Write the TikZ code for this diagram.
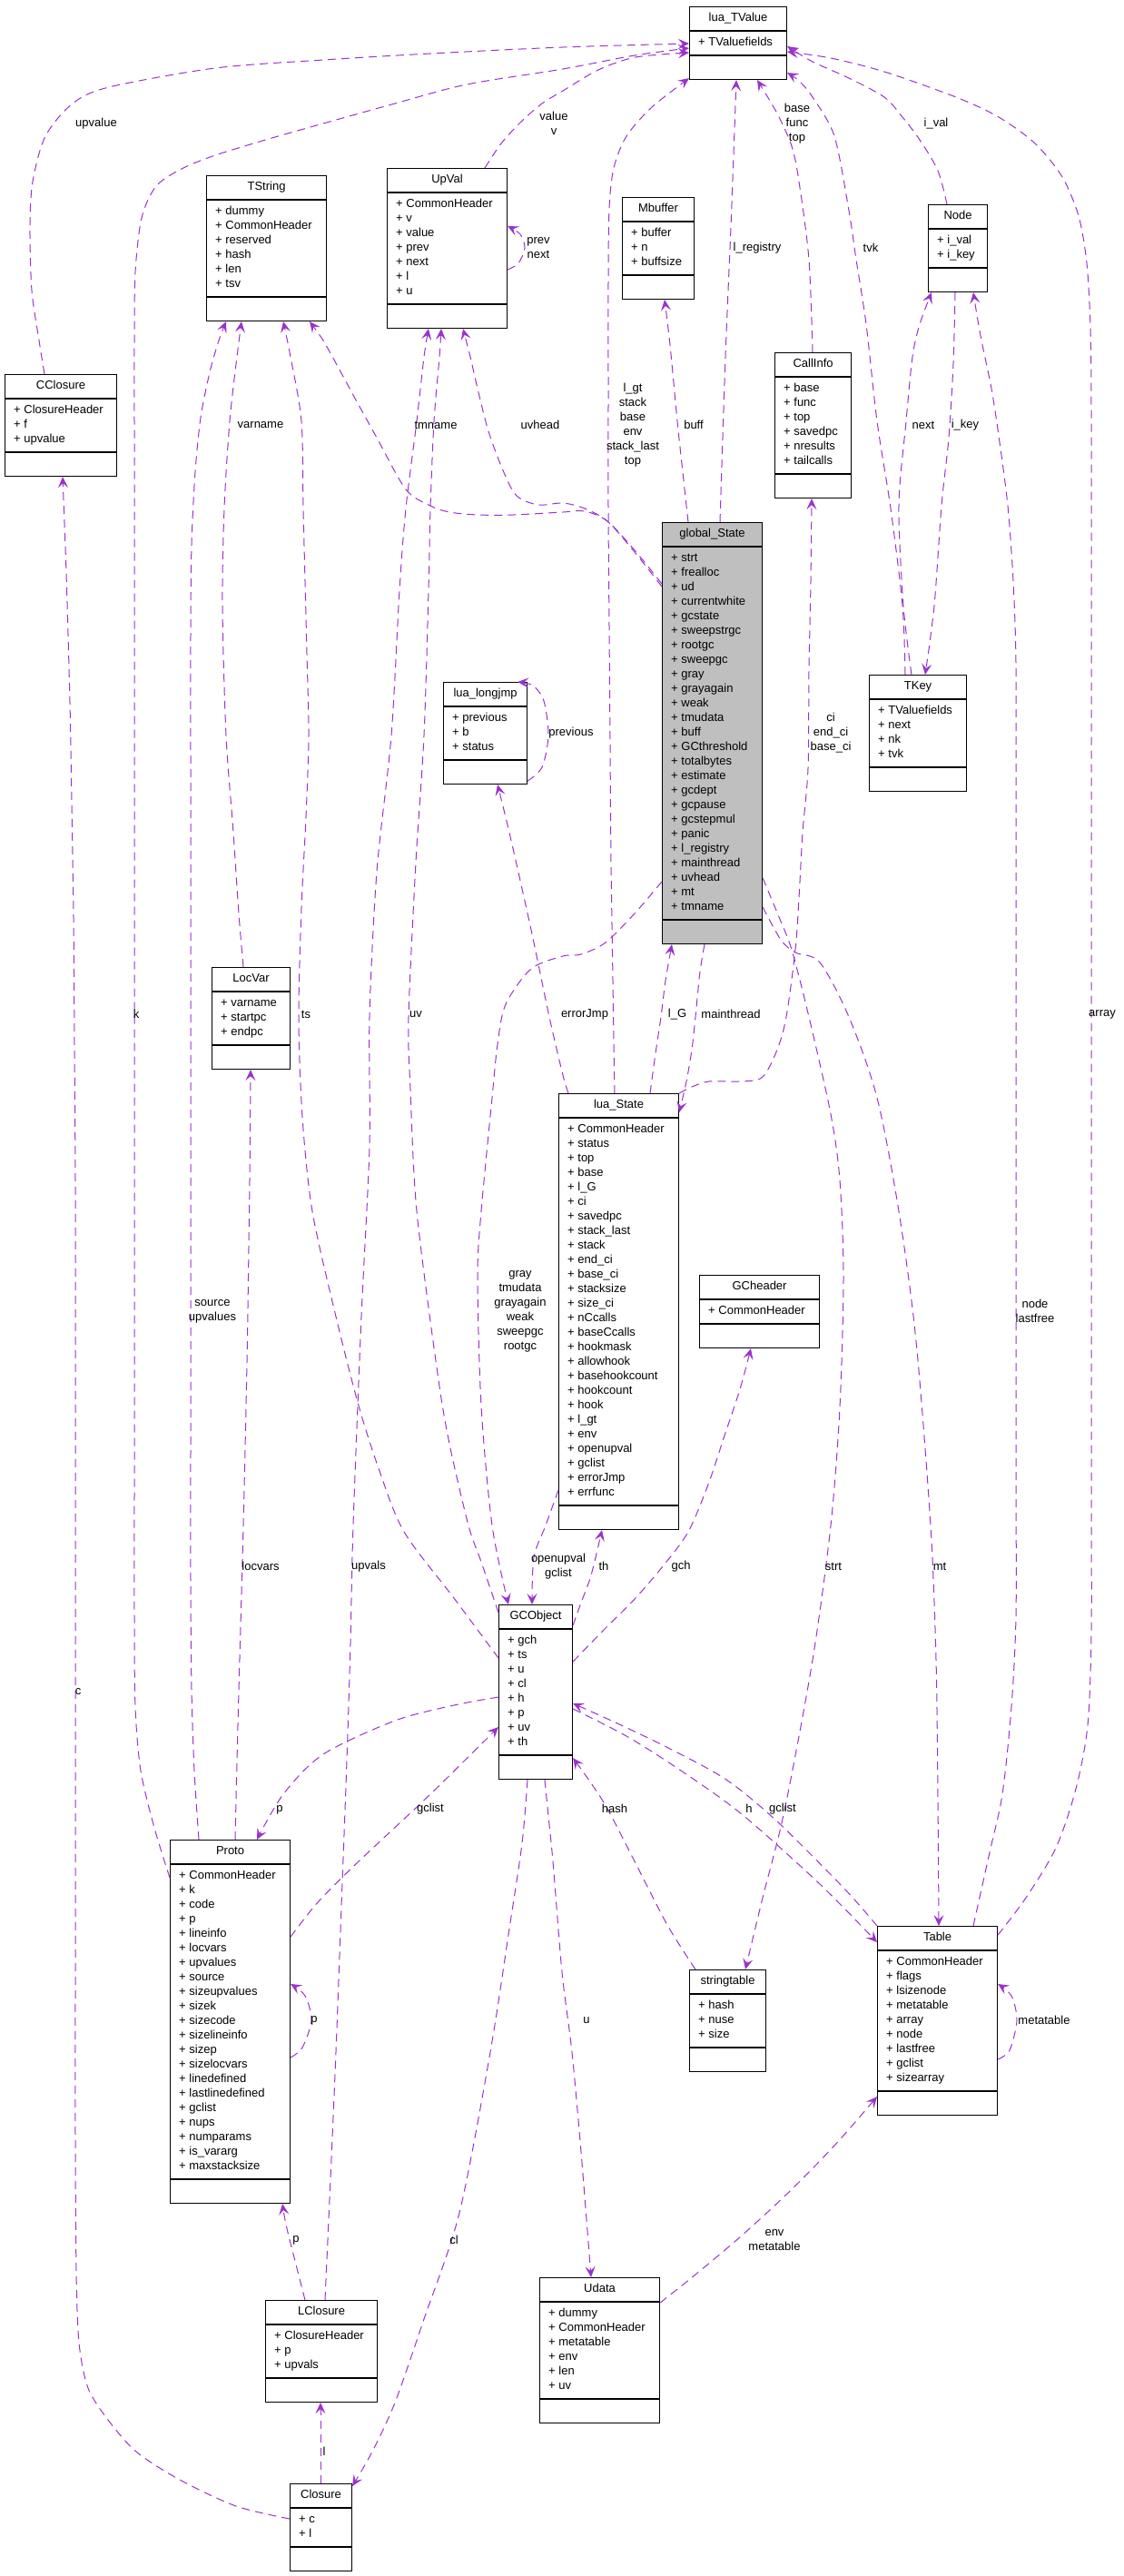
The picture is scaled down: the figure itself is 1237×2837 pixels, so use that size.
\documentclass[tikz,border=0pt]{standalone}
\usepackage{fontspec}
\setmainfont{Liberation Sans}
\usetikzlibrary{arrows.meta, calc}
\definecolor{edgepurple}{RGB}{154, 50, 205}
\definecolor{focusgray}{RGB}{191, 191, 191}
\newcommand{\classfont}{\fontsize{13}{16}\selectfont}

% one class box: [fill] name, top-left corner, width, title, members
\newcommand{\umlclass}[6][white]{%
  \foreach \m [count=\i] in {#6} {\xdef\nrows{\i}}
  \node[classbox, fill=#1, minimum width=#4, minimum height=64+16*\nrows] (#2) at (#3) {};
  \node[classtitle] (#2-title) at ($(#2.north)+(0,13.5)$) {#5};
  \draw[classline] ($(#2.north west)+(0,27)$) -- ($(#2.north east)+(0,27)$);
  \draw[classline] ($(#2.north west)+(0,{38+16*\nrows})$) -- ($(#2.north east)+(0,{38+16*\nrows})$);
  \foreach \m [count=\i] in {#6}
    \node[member] (#2-\i) at ($(#2.north west)+(10,{24+16*\i})$) {+ \m};
}

\begin{document}
\begin{tikzpicture}[x=1pt, y=-1pt,
    classbox/.style={draw=black, line width=1.1pt, anchor=north west, inner sep=0pt},
    classline/.style={draw=black, line width=1.1pt},
    classtitle/.style={font=\classfont, inner sep=0pt, text height=9.3pt, text depth=2.7pt},
    member/.style={font=\classfont, anchor=west, inner sep=0pt, text height=9.3pt, text depth=2.7pt},
    usedby/.style={draw=edgepurple, line width=1pt, dash pattern=on 9pt off 6pt,
      -{Stealth[length=12pt, width=11pt, inset=5pt]}},
    elabel/.style={font=\classfont, align=center, inner sep=0pt}]
    \fill[white] (0,0) rectangle (1237,2837);
    \useasboundingbox (0,0) rectangle (1237,2837);

    % classes
    \umlclass{tvalue}{759,7}{107}{lua\_TValue}{TValuefields}
    \umlclass{tstring}{227,193}{132}{TString}{dummy, CommonHeader, reserved, hash, len, tsv}
    \umlclass{upval}{426,185}{132}{UpVal}{CommonHeader, v, value, prev, next, l, u}
    \umlclass{mbuffer}{685,217}{79}{Mbuffer}{buffer, n, buffsize}
    \umlclass{tnode}{1022,225}{65}{Node}{i\_val, i\_key}
    \umlclass{callinfo}{853,388}{84}{CallInfo}{base, func, top, savedpc, nresults, tailcalls}
    \umlclass{cclosure}{5,412}{123}{CClosure}{ClosureHeader, f, upvalue}
    \umlclass[focusgray]{globalstate}{729,575}{110}{global\_State}{strt, frealloc, ud, currentwhite, gcstate, sweepstrgc, rootgc, sweepgc, gray, grayagain, weak, tmudata, buff, GCthreshold, totalbytes, estimate, gcdept, gcpause, gcstepmul, panic, l\_registry, mainthread, uvhead, mt, tmname}
    \umlclass{tkey}{957,743}{107}{TKey}{TValuefields, next, nk, tvk}
    \umlclass{longjmp}{488,751}{92}{lua\_longjmp}{previous, b, status}
    \umlclass{locvar}{233,1065}{86}{LocVar}{varname, startpc, endpc}
    \umlclass{luastate}{615,1204}{132}{lua\_State}{CommonHeader, status, top, base, l\_G, ci, savedpc, stack\_last, stack, end\_ci, base\_ci, stacksize, size\_ci, nCcalls, baseCcalls, hookmask, allowhook, basehookcount, hookcount, hook, l\_gt, env, openupval, gclist, errorJmp, errfunc}
    \umlclass{gcheader}{770,1404}{132}{GCheader}{CommonHeader}
    \umlclass{gcobject}{549,1767}{81}{GCObject}{gch, ts, u, cl, h, p, uv, th}
    \umlclass{proto}{187,2026}{132}{Proto}{CommonHeader, k, code, p, lineinfo, locvars, upvalues, source, sizeupvalues, sizek, sizecode, sizelineinfo, sizep, sizelocvars, linedefined, lastlinedefined, gclist, nups, numparams, is\_vararg, maxstacksize}
    \umlclass{stringtable}{759,2169}{84}{stringtable}{hash, nuse, size}
    \umlclass{table}{966,2121}{132}{Table}{CommonHeader, flags, lsizenode, metatable, array, node, lastfree, gclist, sizearray}
    \umlclass{udata}{594,2508}{132}{Udata}{dummy, CommonHeader, metatable, env, len, uv}
    \umlclass{lclosure}{292,2533}{123}{LClosure}{ClosureHeader, p, upvals}
    \umlclass{closure}{319,2735}{68}{Closure}{c, l}

    % connectors into lua_TValue
    \draw[usedby] plot[smooth] coordinates {($(cclosure.north west)+(44,0)$) (43,375) (35,320) (33,250) (36,200) (50,150) (80,114) (120,96) (237,75) (356,66) (474,59) (620,52) ($(tvalue.north west)+(0,41)$)};
    \draw[usedby] plot[smooth] coordinates {($(proto.north west)+(0,42)$) (170,2013) (155,1950) (149,1880) (148,1780) (148,1640) (148,1500) (148,1350) (148,1200) (148,1050) (148,900) (148,750) (148,600) (148,470) (148,380) (149,300) (156,240) (172,205) (200,186) (237,171) (296,153) (356,136) (435,114) (514,93) (620,76) (699,61) ($(tvalue.north west)+(0,46)$)};
    \draw[usedby] plot[smooth] coordinates {($(upval.north west)+(108,0)$) (552,158) (573,135) (597,114) (620,100) (659,77) (700,63) ($(tvalue.north west)+(0,51)$)};
    \draw[usedby] plot[smooth] coordinates {($(luastate.north west)+(62,0)$) (676,1150) (675,1080) (673,950) (672,820) (671,690) (670,560) (670,430) (670,310) (671,230) (676,185) (690,150) (718,118) ($(tvalue.south west)+(0,-2)$)};
    \draw[usedby] plot[smooth] coordinates {($(globalstate.north west)+(64,0)$) (799,393) (805,250) (809,143) ($(tvalue.south west)+(52,0)$)};
    \draw[usedby] plot[smooth] coordinates {($(callinfo.north west)+(42,0)$) (891,286) (880,200) (872,161) (856,125) ($(tvalue.south west)+(75,0)$)};
    \draw[usedby] plot[smooth] coordinates {($(tkey.north west)+(40,0)$) (994,667) (981,560) (966,464) (954,357) (943,286) (935,232) (919,150) (895,107) (880,89) ($(tvalue.south east)+(0,-8)$)};
    \draw[usedby] plot[smooth] coordinates {($(tnode.north west)+(21,0)$) (1033,188) (1013,154) (994,129) (974,107) (935,86) (895,68) ($(tvalue.north east)+(0,44)$)};
    \draw[usedby] plot[smooth] coordinates {($(table.north east)+(0,10)$) (1130,2090) (1163,2035) (1185,1970) (1198,1900) (1202,1800) (1202,1650) (1202,1500) (1202,1350) (1202,1200) (1202,1050) (1202,900) (1202,750) (1202,600) (1202,450) (1201,360) (1197,290) (1188,238) (1170,195) (1140,158) (1100,129) (1053,107) (974,79) (915,64) ($(tvalue.north east)+(0,50)$)};

    % Node and TKey
    \draw[usedby] plot[smooth] coordinates {($(table.north west)+(106,0)$) (1090,2040) (1104,1976) (1114,1880) (1119,1780) (1119,1630) (1119,1480) (1119,1330) (1119,1180) (1119,1030) (1119,880) (1119,730) (1116,640) (1110,557) (1100,480) (1092,428) (1080,370) ($(tnode.south west)+(50,0)$)};
    \draw[usedby] plot[smooth] coordinates {($(tkey.north west)+(47,0)$) (995,667) (990,557) (998,464) (1005,393) (1013,357) ($(tnode.south west)+(4,0)$)};
    \draw[usedby] plot[smooth] coordinates {($(tnode.south west)+(30,0)$) (1050,400) (1045,482) (1037,557) (1029,667) ($(tkey.north west)+(62,0)$)};

    % into TString
    \draw[usedby] plot[smooth] coordinates {($(locvar.north west)+(35,0)$) (263,1006) (257,917) (249,810) (245,667) (247,560) (253,464) (261,393) ($(tstring.south west)+(39,0)$)};
    \draw[usedby] plot[smooth] coordinates {($(proto.north west)+(32,0)$) (214,1950) (211,1860) (210,1740) (210,1590) (210,1440) (210,1290) (210,1140) (210,990) (210,840) (210,700) (211,600) (215,520) (221,460) (231,410) (241,375) ($(tstring.south west)+(22,0)$)};
    \draw[usedby] plot[smooth] coordinates {($(gcobject.north west)+(0,59)$) (500,1760) (445,1687) (418,1620) (395,1548) (370,1450) (344,1334) (333,1230) (329,1120) (332,1000) (337,900) (340,810) (338,720) (336,640) (334,560) (332,464) (320,393) ($(tstring.south west)+(85,0)$)};
    \draw[usedby] plot[smooth] coordinates {($(globalstate.north west)+(0,68)$) (699,606) (669,574) (644,563) (620,564) (565,567) (526,567) (495,564) (474,557) (447,539) (415,482) (395,446) (376,411) (356,375) ($(tstring.south west)+(114,0)$)};

    % into UpVal
    \draw[usedby] plot[smooth] coordinates {($(globalstate.north west)+(0,71)$) (699,608) (669,574) (644,560) (620,554) (593,556) (569,546) (554,518) (538,475) (526,428) (518,393) ($(upval.south west)+(84,0)$)};
    \draw[usedby] plot[smooth] coordinates {($(lclosure.north west)+(66,0)$) (364,2400) (370,2260) (376,2100) (382,1939) (386,1810) (389,1680) (398,1450) (407,1263) (407,1120) (415,960) (431,810) (440,650) (447,560) (459,464) (467,393) ($(upval.south west)+(46,0)$)};
    \draw[usedby] plot[smooth] coordinates {($(gcobject.north west)+(0,9)$) (530,1720) (516,1680) (495,1590) (482,1513) (459,1334) (452,1200) (450,1120) (458,950) (467,810) (472,650) (474,560) (478,464) (484,393) ($(upval.south west)+(60,0)$)};
    \draw[usedby] plot[smooth] coordinates {($(upval.north east)+(0,112)$) (571,290) (578,273) (573,258) ($(upval.north east)+(0,64)$)};

    % global_State, lua_State and the rest
    \draw[usedby] plot[smooth] coordinates {($(globalstate.north west)+(29,0)$) (752,520) (746,464) (738,380) ($(mbuffer.south west)+(47,0)$)};
    \draw[usedby] plot[smooth] coordinates {(luastate.north east) (762,1197) (781,1191) (817,1191) (840,1186) (856,1156) (866,1120) (876,1046) (880,989) (884,917) (890,846) (891,739) (893,640) ($(callinfo.south west)+(41,0)$)};
    \draw[usedby] plot[smooth] coordinates {($(globalstate.south west)+(47,0)$) (771,1070) (766,1120) (762,1156) (756,1191) ($(luastate.north east)+(0,21)$)};
    \draw[usedby] plot[smooth] coordinates {($(luastate.north west)+(101,0)$) (722,1160) (728,1120) (733,1080) ($(globalstate.south west)+(11,0)$)};
    \draw[usedby] plot[smooth] coordinates {($(luastate.north west)+(11,0)$) (620,1184) (605,1120) (585,1024) (561,917) ($(longjmp.south west)+(60,0)$)};
    \draw[usedby] plot[smooth] coordinates {($(longjmp.south east)+(0,-4)$) (597,845) (604,810) (599,772) (587,755) ($(longjmp.north east)+(-11,0)$)};
    \draw[usedby] plot[smooth] coordinates {($(globalstate.north west)+(0,396)$) (699,1006) (667,1038) (640,1051) (620,1053) (585,1067) (557,1106) (548,1150) (542,1209) (530,1334) (526,1406) (530,1548) (542,1680) ($(gcobject.north west)+(11,0)$)};
    \draw[usedby] plot[smooth] coordinates {($(luastate.south west)+(0,-44)$) (601,1680) (588,1715) ($(gcobject.north west)+(37,0)$)};
    \draw[usedby] plot[smooth] coordinates {($(gcobject.north east)+(0,23)$) (640,1765) (651,1735) ($(luastate.south west)+(48,0)$)};
    \draw[usedby] plot[smooth] coordinates {($(gcobject.north east)+(0,63)$) (665,1795) (699,1761) (730,1725) (758,1687) (780,1635) (797,1584) (815,1530) ($(gcheader.south west)+(57,0)$)};
    \draw[usedby] plot[smooth] coordinates {($(gcobject.north east)+(0,115)$) (690,1912) (750,1950) (817,1998) (903,2075) ($(table.north west)+(0,18)$)};
    \draw[usedby] plot[smooth] coordinates {(table.north west) (930,2080) (856,2006) (800,1960) (738,1926) (680,1898) ($(gcobject.north east)+(0,109)$)};
    \draw[usedby] plot[smooth] coordinates {($(stringtable.north west)+(7,0)$) (735,2120) (699,2050) (665,1985) ($(gcobject.south east)+(0,-24)$)};
    \draw[usedby] plot[smooth] coordinates {($(gcobject.north west)+(0,102)$) (500,1878) (435,1895) (356,1932) (312,1976) ($(proto.north west)+(96,0)$)};
    \draw[usedby] plot[smooth] coordinates {($(proto.north east)+(0,107)$) (350,2095) (395,2050) (474,1976) ($(gcobject.north west)+(0,135)$)};
    \draw[usedby] plot[smooth] coordinates {($(gcobject.south west)+(32,0)$) (575,2030) (561,2124) (540,2260) (506,2437) (467,2554) (435,2646) (410,2700) ($(closure.north east)+(0,3)$)};
    \draw[usedby] plot[smooth] coordinates {($(gcobject.south west)+(51,0)$) (604,2000) (609,2050) (619,2172) (630,2260) (640,2370) ($(udata.north west)+(57,0)$)};
    \draw[usedby] plot[smooth] coordinates {($(udata.north east)+(0,28)$) (766,2505) (817,2462) (868,2415) (919,2363) ($(table.south west)+(0,-21)$)};
    \draw[usedby] plot[smooth] coordinates {($(table.north east)+(0,147)$) (1112,2258) (1120,2225) (1114,2198) ($(table.north east)+(0,64)$)};
    \draw[usedby] plot[smooth] coordinates {($(globalstate.north east)+(0,392)$) (858,1010) (872,1046) (891,1120) (915,1227) (925,1300) (929,1406) (925,1550) (915,1680) (895,1828) (864,1994) (840,2090) ($(stringtable.north west)+(62,0)$)};
    \draw[usedby] plot[smooth] coordinates {($(globalstate.north east)+(0,424)$) (860,1035) (876,1049) (903,1060) (935,1120) (966,1209) (990,1334) (1009,1477) (1025,1680) (1031,1828) (1033,1980) ($(table.north west)+(68,0)$)};

    % Proto, closures, LocVar
    \draw[usedby] plot[smooth] coordinates {($(lclosure.north west)+(44,0)$) (325,2490) (315,2450) ($(proto.south east)+(-9,0)$)};
    \draw[usedby] plot[smooth] coordinates {($(proto.north east)+(0,240)$) (333,2255) (343,2225) (336,2198) ($(proto.north east)+(0,159)$)};
    \draw[usedby] plot[smooth] coordinates {($(proto.north west)+(72,0)$) (262,1900) (268,1680) (272,1500) (275,1300) ($(locvar.south west)+(43,0)$)};
    \draw[usedby] ($(closure.north west)+(34,0)$) -- ($(lclosure.south west)+(61,0)$);
    \draw[usedby] plot[smooth] coordinates {($(closure.north west)+(0,39)$) (260,2760) (198,2731) (150,2700) (119,2665) (97,2630) (87,2580) (84,2500) (83,2350) (83,2200) (83,2050) (83,1900) (83,1750) (83,1600) (83,1450) (83,1300) (82,1150) (81,1010) (79,881) (77,774) (73,631) ($(cclosure.south west)+(64,0)$)};

    % connector labels
    \node[elabel] (lbl-upvalue) at (106,136) {upvalue};
    \node[elabel] (lbl-k) at (150,1117) {k};
    \node[elabel] (lbl-value) at (610,136) {value\\v};
    \node[elabel] (lbl-lgt) at (697,468) {l\_gt\\stack\\base\\env\\stack\_last\\top};
    \node[elabel] (lbl-registry) at (834,273) {l\_registry};
    \node[elabel] (lbl-base) at (878,136) {base\\func\\top};
    \node[elabel] (lbl-tvk) at (959,273) {tvk};
    \node[elabel] (lbl-ival) at (1031,136) {i\_val};
    \node[elabel] (lbl-array) at (1214,1117) {array};
    \node[elabel] (lbl-node) at (1140,1444) {node\\lastfree};
    \node[elabel] (lbl-next) at (1017,468) {next};
    \node[elabel] (lbl-ikey) at (1063,468) {i\_key};
    \node[elabel] (lbl-varname) at (287,468) {varname};
    \node[elabel] (lbl-source) at (234,1444) {source\\upvalues};
    \node[elabel] (lbl-ts) at (337,1117) {ts};
    \node[elabel] (lbl-tmname) at (480,468) {tmname};
    \node[elabel] (lbl-uvhead) at (595,468) {uvhead};
    \node[elabel] (lbl-upvals) at (406,1725) {upvals};
    \node[elabel] (lbl-uv) at (458,1117) {uv};
    \node[elabel] (lbl-buff) at (764,468) {buff};
    \node[elabel] (lbl-ci) at (915,807) {ci\\end\_ci\\base\_ci};
    \node[elabel] (lbl-mainthread) at (805,1117) {mainthread};
    \node[elabel] (lbl-lG) at (746,1117) {l\_G};
    \node[elabel] (lbl-errorjmp) at (644,1117) {errorJmp};
    \node[elabel] (lbl-previous) at (629,807) {previous};
    \node[elabel] (lbl-gray) at (573,1444) {gray\\tmudata\\grayagain\\weak\\sweepgc\\rootgc};
    \node[elabel] (lbl-openupval) at (615,1725) {openupval\\gclist};
    \node[elabel] (lbl-th) at (665,1725) {th};
    \node[elabel] (lbl-gch) at (750,1725) {gch};
    \node[elabel] (lbl-h) at (825,1992) {h};
    \node[elabel] (lbl-tgclist) at (862,1992) {gclist};
    \node[elabel] (lbl-hash) at (677,1992) {hash};
    \node[elabel] (lbl-p) at (308,1993) {p};
    \node[elabel] (lbl-pgclist) at (474,1992) {gclist};
    \node[elabel] (lbl-cl) at (500,2467) {cl};
    \node[elabel] (lbl-u) at (646,2225) {u};
    \node[elabel] (lbl-env) at (853,2467) {env\\metatable};
    \node[elabel] (lbl-metatable) at (1150,2225) {metatable};
    \node[elabel] (lbl-strt) at (918,1725) {strt};
    \node[elabel] (lbl-mt) at (1035,1725) {mt};
    \node[elabel] (lbl-lp) at (326,2467) {p};
    \node[elabel] (lbl-pp) at (346,2225) {p};
    \node[elabel] (lbl-locvars) at (287,1725) {locvars};
    \node[elabel] (lbl-l) at (357,2700) {l};
    \node[elabel] (lbl-c) at (86,1863) {c};
    \node[elabel] (lbl-prev) at (593,273) {prev\\next};
\end{tikzpicture}
\end{document}
